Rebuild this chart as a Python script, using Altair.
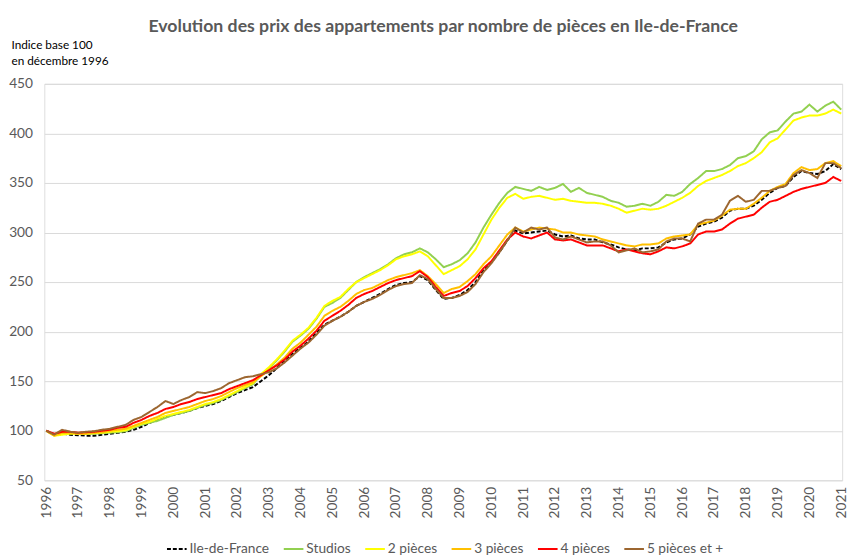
import altair as alt
import pandas as pd

# ---- data (quarterly readings, 1996.00 .. 2021.00) ----
start_year = 1996.0
step = 0.25

chart_title = "Evolution des prix des appartements par nombre de pièces en Ile-de-France"
series_names = ["Ile-de-France", "Studios", "2 pièces", "3 pièces", "4 pièces", "5 pièces et +"]
series_colors = ["#000000", "#92D050", "#FFFF00", "#FFC000", "#FF0000", "#9C6630"]
series_dash = [[4, 2], [1, 0], [1, 0], [1, 0], [1, 0], [1, 0]]

idf = [100, 96.5, 97, 96, 95.5, 95, 95, 96, 97, 98, 99, 101, 104, 108, 111, 114, 116, 118, 120, 123,
       125, 127, 130, 134, 138, 141, 144, 150, 156, 163, 171, 178, 184, 190, 199, 207, 211, 215, 220, 226,
       230, 234, 238, 243, 247, 249, 250, 256, 252, 242, 233, 234, 237, 242, 250, 262, 270, 280, 292, 302,
       299, 300, 301, 302, 298, 296, 297, 294, 293, 293, 290, 288, 285, 283, 282, 284, 284, 285, 290, 293,
       294, 298, 306, 309, 311, 315, 322, 324, 324, 327, 333, 340, 345, 347, 356, 362, 360, 359, 362, 369, 364]

studios = [100, 96, 97, 98, 97.5, 97, 97, 97.5, 98, 98.5, 99.5, 103, 106, 108, 110, 113, 116, 118, 120, 123,
           126, 128, 131, 135, 139, 143, 147, 156, 163, 171, 180, 190, 196, 203, 213, 225, 229, 234, 242, 250,
           255, 259, 263, 268, 274, 278, 280, 284, 280, 273, 265, 268, 272, 279, 290, 305, 318, 330, 340, 346,
           344, 342, 346, 343, 345, 349, 341, 345, 340, 338, 336, 332, 330, 326, 327, 329, 327, 331, 338, 337,
           341, 349, 355, 362, 362, 364, 368, 375, 377, 382, 394, 401, 403, 412, 420, 422, 429, 422, 428, 432, 424]

p2 = [100, 95, 96, 97, 97, 97, 97.5, 98, 99, 99.5, 100.5, 104, 107, 109, 112, 115, 117, 119, 121, 124,
      127, 129, 132, 136, 140, 144, 148, 157, 164, 172, 181, 191, 197, 204, 214, 226, 231, 235, 243, 250,
      254, 258, 262, 267, 273, 276, 278, 281, 276, 267, 258, 262, 266, 273, 283, 298, 313, 325, 335, 339,
      334, 336, 337, 335, 333, 334, 332, 331, 330, 330, 329, 327, 324, 320, 322, 324, 323, 324, 327, 331,
      335, 340, 347, 352, 355, 358, 362, 367, 370, 375, 381, 391, 395, 404, 413, 416, 418, 418, 420, 424, 420]

p3 = [100, 95, 98, 98, 97, 97, 98, 98.5, 100, 101, 102, 105, 108, 111, 114, 118, 120, 122, 124, 127,
      130, 132, 135, 139, 143, 146, 149, 155, 161, 167, 174, 183, 189, 197, 205, 216, 221, 225, 231, 238,
      242, 244, 248, 252, 255, 257, 259, 262, 256, 248, 239, 243, 245, 251, 258, 268, 276, 287, 298, 305,
      301, 303, 305, 304, 303, 300, 300, 298, 297, 296, 293, 291, 289, 287, 286, 288, 288, 289, 294, 296,
      297, 298, 308, 310, 312, 317, 323, 324, 324, 329, 335, 342, 346, 349, 360, 366, 363, 364, 370, 372, 367]

p4 = [100, 97, 99, 99, 98, 98.5, 99, 100, 101, 103, 104, 108, 111, 115, 118, 122, 124, 127, 129, 132,
      134, 136, 138, 142, 145, 148, 151, 156, 161, 166, 172, 180, 186, 193, 201, 211, 216, 221, 227, 234,
      238, 241, 245, 249, 252, 254, 256, 261, 255, 245, 236, 239, 241, 246, 254, 264, 271, 282, 293, 300,
      296, 294, 297, 300, 293, 292, 293, 290, 287, 287, 287, 284, 281, 283, 281, 279, 278, 281, 285, 284,
      286, 289, 298, 301, 301, 303, 309, 314, 316, 318, 325, 331, 333, 337, 341, 344, 346, 348, 350, 356, 352]

p5 = [100, 96, 101, 99, 98, 99, 99.5, 101, 102, 104, 106, 111, 114, 119, 124, 130, 127, 131, 134, 139,
      138, 140, 143, 148, 151, 154, 155, 157, 159, 163, 169, 176, 183, 189, 197, 206, 211, 215, 220, 226,
      230, 233, 237, 242, 246, 248, 249, 257, 253, 243, 234, 234, 236, 240, 248, 260, 269, 280, 292, 305,
      300, 305, 303, 305, 295, 293, 296, 293, 290, 291, 291, 287, 280, 282, 284, 280, 281, 283, 291, 294,
      294, 291, 309, 313, 313, 318, 332, 337, 331, 333, 342, 342, 345, 347, 358, 363, 360, 355, 370, 370, 365]

year_ticks = list(range(1996, 2022))
y_ticks = [50, 100, 150, 200, 250, 300, 350, 400, 450]

all_values = [idf, studios, p2, p3, p4, p5]
rows = []
for name, vals in zip(series_names, all_values):
    for i, v in enumerate(vals):
        rows.append({"serie": name, "annee": start_year + i * step, "indice": v})
df = pd.DataFrame(rows)

FONT = "Lato"
GREY = "#595959"
PLOT_W = 813
PLOT_H = 404

legend_cfg = dict(
    title=None, orient="none", legendX=124, legendY=463, direction="horizontal",
    columns=6, symbolType="stroke", symbolSize=400, symbolStrokeWidth=2,
    labelFontSize=14, labelColor=GREY, labelFont=FONT, columnPadding=10, labelOffset=2,
)

lines = alt.Chart(df).mark_line(strokeWidth=2).encode(
    x=alt.X(
        "annee:Q",
        scale=alt.Scale(domain=[1995.94, 2021.03], nice=False, zero=False),
        axis=alt.Axis(
            values=year_ticks, format="d", labelAngle=-90, grid=False, domain=False,
            ticks=False, labelFontSize=14, labelColor=GREY, labelFont=FONT,
            labelPadding=6, title=None, labelFlush=False, labelOverlap=False,
        ),
    ),
    y=alt.Y(
        "indice:Q",
        scale=alt.Scale(domain=[50, 450], nice=False, zero=False),
        axis=alt.Axis(
            values=y_ticks, grid=True, gridColor="#d9d9d9", gridWidth=1, domain=False,
            ticks=False, labelFontSize=14, labelColor=GREY, labelFont=FONT, labelPadding=12,
            title=["Indice base 100", "en décembre 1996"], titleAngle=0, titleAlign="left",
            titleBaseline="alphabetic", titleX=-34, titleY=-36, titleFontSize=12,
            titleFontWeight="normal", titleColor="#000000", titleFont=FONT, titleLineHeight=16,
        ),
    ),
    color=alt.Color(
        "serie:N",
        scale=alt.Scale(domain=series_names, range=series_colors),
        sort=series_names,
        legend=alt.Legend(**legend_cfg),
    ),
    strokeDash=alt.StrokeDash(
        "serie:N",
        scale=alt.Scale(domain=series_names, range=series_dash),
        sort=series_names,
        legend=alt.Legend(**legend_cfg),
    ),
)

title_text = alt.Chart(pd.DataFrame({"t": [chart_title]})).mark_text(
    font=FONT, fontSize=18, fontWeight="bold", color=GREY, align="center", baseline="alphabetic",
).encode(
    text="t:N",
    x=alt.value(PLOT_W / 2),
    y=alt.value(-53),
)

chart = alt.layer(lines, title_text).properties(
    width=PLOT_W,
    height=PLOT_H,
    autosize=alt.AutoSizeParams(type="none"),
    padding={"left": 37, "top": 72, "right": 10, "bottom": 80},
).configure_view(stroke=None).configure(background="white")

chart.save("out.html", embed_options={"renderer": "svg", "actions": False})
